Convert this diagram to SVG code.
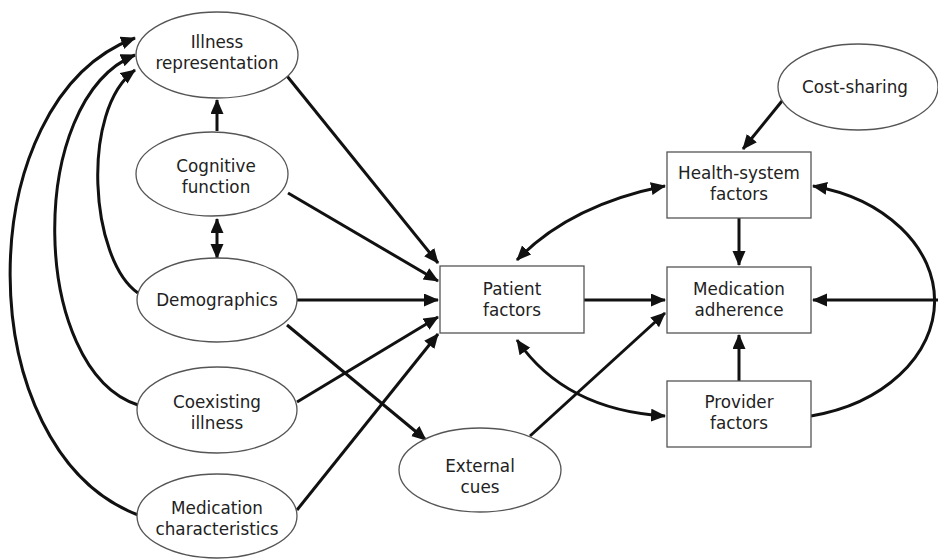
<svg xmlns="http://www.w3.org/2000/svg" width="938" height="559" viewBox="0 0 938 559">
<defs>
<marker id="ah" markerUnits="userSpaceOnUse" markerWidth="16" markerHeight="14" refX="14" refY="6.5" orient="auto-start-reverse">
<path d="M0,0 L15,6.5 L0,13 z" fill="#111"/>
</marker>
<style>
.n ellipse,.n rect{fill:#fff;stroke:#555;stroke-width:1.3}
.n text{font-family:"DejaVu Sans","Open Sans",sans-serif;font-size:16.8px;fill:#222;text-anchor:middle}
#edges path{fill:none;stroke:#111;stroke-width:3;marker-end:url(#ah)}
#edges path.bi{marker-start:url(#ah)}
</style>
</defs>
<rect width="938" height="559" fill="#fff"/>
<g id="edges">
<path d="M138,515 C-32,450 -32,100 135,38"/>
<path d="M138,405 C30,370 25,100 135,55"/>
<path d="M138,293 C90,260 80,110 135,70"/>
<path d="M217,131 L217,100"/>
<path class="bi" d="M217,219 L217,258"/>
<path d="M287,76 L438,263"/>
<path d="M288,193 L438,281"/>
<path d="M297,300 L438,300"/>
<path d="M297,402 L438,317"/>
<path d="M297,510 L438,334"/>
<path d="M287,325 L426,440"/>
<path d="M530,436 L665,313"/>
<path d="M584,300 L665,300"/>
<path class="bi" d="M517,260 Q570,205 665,186"/>
<path class="bi" d="M517,340 Q565,410 665,416"/>
<path d="M782,101 L743,149"/>
<path d="M739,218 L739,265"/>
<path d="M739,381 L739,335"/>
<path d="M938,300 L813,300"/>
<path d="M811,416 A158,118 0 0 0 813,186"/>
</g>
<g id="illness" class="n"><ellipse cx="217" cy="55" rx="81" ry="43"/><text x="217" y="48">Illness</text><text x="217" y="69">representation</text></g>
<g id="cognitive" class="n"><ellipse cx="212" cy="174" rx="76" ry="42"/><text x="216" y="172">Cognitive</text><text x="216" y="193">function</text></g>
<g id="demographics" class="n"><ellipse cx="217" cy="300" rx="80" ry="42"/><text x="217" y="306">Demographics</text></g>
<g id="coexisting" class="n"><ellipse cx="217" cy="410" rx="80" ry="43"/><text x="217" y="408">Coexisting</text><text x="217" y="429">illness</text></g>
<g id="medchar" class="n"><ellipse cx="217" cy="516" rx="80" ry="42"/><text x="217" y="514">Medication</text><text x="217" y="535">characteristics</text></g>
<g id="patient" class="n"><rect x="440" y="266" width="144" height="67"/><text x="512" y="295">Patient</text><text x="512" y="316">factors</text></g>
<g id="external" class="n"><ellipse cx="480" cy="470" rx="81" ry="42"/><text x="480" y="472">External</text><text x="480" y="493">cues</text></g>
<g id="cost" class="n"><ellipse cx="858" cy="87" rx="80" ry="43"/><text x="855" y="93">Cost-sharing</text></g>
<g id="health" class="n"><rect x="667" y="152" width="144" height="66"/><text x="739" y="179">Health-system</text><text x="739" y="200">factors</text></g>
<g id="adherence" class="n"><rect x="667" y="267" width="144" height="66"/><text x="739" y="295">Medication</text><text x="739" y="316">adherence</text></g>
<g id="provider" class="n"><rect x="667" y="381" width="144" height="66"/><text x="739" y="408">Provider</text><text x="739" y="429">factors</text></g>
</svg>
